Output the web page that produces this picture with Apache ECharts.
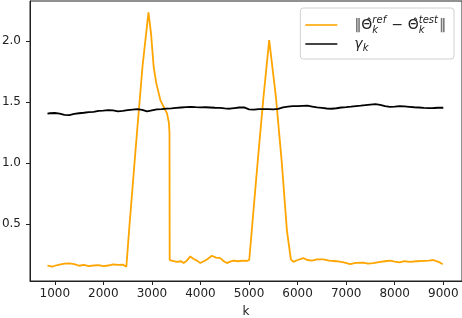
<!DOCTYPE html>
<html><head><meta charset="utf-8">
<script src="https://cdn.jsdelivr.net/npm/echarts@6/dist/echarts.min.js"></script>
<style>html,body{margin:0;padding:0;background:#fff}#c{width:462px;height:318px}</style>
</head><body><div id="c"></div>
<script>
// ---- data ----
const seriesNames = ['diff', 'gamma'];
const xTicks = [1000, 2000, 3000, 4000, 5000, 6000, 7000, 8000, 9000];
const yTicks = [0.5, 1.0, 1.5, 2.0];

const kOrange = [850, 900, 950, 1000, 1100, 1200, 1300, 1400, 1500, 1600, 1700, 1800, 1900, 2000, 2100, 2200, 2300, 2400, 2440, 2474,
  2536, 2680, 2806, 2929, 2982, 3036, 3091, 3174, 3242, 3311, 3350, 3362, 3366,
  3400, 3450, 3517, 3600, 3653, 3720, 3790, 3850, 3928, 3996, 4070, 4133, 4236, 4320, 4407, 4480, 4545, 4610, 4681, 4780, 4887, 4960, 5004,
  5175, 5298, 5415, 5553, 5676, 5779, 5861,
  5915, 6000, 6120, 6200, 6300, 6400, 6531, 6650, 6800, 6950, 7080, 7200, 7354, 7450, 7560, 7700, 7800, 7903, 8000, 8100, 8200, 8314, 8450, 8600, 8700, 8794, 8900, 8987];
const vOrange = [0.160, 0.155, 0.150, 0.158, 0.168, 0.176, 0.178, 0.172, 0.158, 0.165, 0.155, 0.160, 0.163, 0.155, 0.160, 0.170, 0.165, 0.168, 0.160, 0.150,
  0.478, 1.189, 1.789, 2.235, 2.063, 1.789, 1.653, 1.516, 1.461, 1.407, 1.330, 1.250, 0.205,
  0.200, 0.195, 0.190, 0.195, 0.180, 0.200, 0.235, 0.215, 0.200, 0.180, 0.195, 0.210, 0.240, 0.225, 0.220, 0.195, 0.180, 0.192, 0.200, 0.195, 0.200, 0.198, 0.205,
  0.997, 1.543, 2.008, 1.543, 0.997, 0.450, 0.210,
  0.190, 0.205, 0.220, 0.205, 0.200, 0.210, 0.210, 0.200, 0.195, 0.185, 0.172, 0.182, 0.183, 0.176, 0.180, 0.190, 0.195, 0.200, 0.192, 0.185, 0.195, 0.190, 0.195, 0.198, 0.200, 0.205, 0.190, 0.170];

const kBlack = [850, 900, 1000, 1100, 1200, 1300, 1400, 1500, 1600, 1700, 1800, 1900, 2000, 2100, 2200, 2300, 2400, 2500, 2600, 2700, 2800, 2900, 3000,
  3100, 3200, 3300, 3400, 3500, 3600, 3700, 3800, 3900, 4000, 4100, 4200, 4300, 4400, 4500, 4600, 4700, 4800, 4900, 5000,
  5100, 5200, 5300, 5400, 5500, 5600, 5700, 5800, 5900, 6000, 6100, 6200, 6300, 6400, 6500, 6600, 6700, 6800, 6900, 7000,
  7100, 7200, 7300, 7400, 7500, 7600, 7700, 7800, 7900, 8000, 8100, 8200, 8300, 8400, 8500, 8600, 8700, 8800, 8900, 9000];
const vBlack = [1.405, 1.408, 1.410, 1.405, 1.395, 1.392, 1.402, 1.408, 1.412, 1.418, 1.420, 1.428, 1.430, 1.434, 1.432, 1.424, 1.428, 1.434, 1.438, 1.442, 1.436, 1.423, 1.432,
  1.440, 1.442, 1.446, 1.448, 1.452, 1.455, 1.458, 1.461, 1.458, 1.456, 1.457, 1.455, 1.453, 1.452, 1.448, 1.445, 1.450, 1.455, 1.456, 1.440,
  1.438, 1.442, 1.442, 1.441, 1.440, 1.444, 1.456, 1.462, 1.466, 1.467, 1.469, 1.470, 1.463, 1.456, 1.452, 1.447, 1.445, 1.449, 1.455, 1.458,
  1.462, 1.467, 1.470, 1.475, 1.479, 1.483, 1.476, 1.466, 1.461, 1.463, 1.467, 1.465, 1.461, 1.457, 1.455, 1.452, 1.450, 1.451, 1.453, 1.453];

// ---- chart ----
const chart = echarts.init(document.getElementById('c'), null, {renderer: 'canvas'});
const F = 'DejaVu Sans';
const TXT = '#222';
const base = {fontFamily: F, fontSize: 14, color: '#222', lineHeight: 26};
const sm = {fontFamily: F, fontSize: 10, fontStyle: 'italic', color: '#222'};
chart.setOption({
  animation: false,
  grid: {left: 30, right: 0, top: 1, bottom: 37, show: true, borderColor: TXT, borderWidth: 1,
    containLabel: false, outerBoundsMode: 'none'},
  legend: {
    orient: 'vertical', right: 8, top: 8,
    padding: [7, 8, 6, 5], itemGap: 2,
    itemWidth: 32, itemHeight: 2, icon: 'rect',
    backgroundColor: 'rgba(255,255,255,0.85)', borderColor: '#d0d0d0', borderWidth: 1, borderRadius: 3,
    data: [
      {name: seriesNames[0], itemStyle: {color: '#ffb833'}},
      {name: seriesNames[1], itemStyle: {color: '#444'}}
    ],
    formatter: function (n) {
      if (n === seriesNames[0]) {
        return '{bar|‖}{t|Θ̂}{sub|k}{sup|ref}{m| − }{t|Θ̂}{sub|k}{sup|test}{bar|‖}';
      }
      return '{g|γ}{gs|k}';
    },
    textStyle: {
      padding: [0, 0, 0, 12],
      rich: {
        bar: Object.assign({}, base, {color: '#777', fontWeight: 'bold'}),
        t: base,
        m: base,
        sub: Object.assign({}, sm, {padding: [10, 0, 0, 0], width: 0}),
        sup: Object.assign({}, sm, {padding: [0, 1, 10, 0]}),
        g: Object.assign({}, base, {fontStyle: 'italic'}),
        gs: Object.assign({}, sm, {padding: [8, 0, 0, 0]})
      }
    }
  },
  xAxis: {
    type: 'value', min: 490, max: 9385,
    name: 'k', nameLocation: 'middle', nameGap: 25,
    nameTextStyle: {fontFamily: F, fontSize: 12, color: TXT},
    splitLine: {show: false},
    axisLine: {show: true, lineStyle: {color: TXT, width: 1}},
    axisTick: {show: true, length: 4, lineStyle: {color: TXT}, customValues: xTicks},
    axisLabel: {fontFamily: F, fontSize: 12, color: TXT, margin: 7, customValues: xTicks,
      formatter: function (v) { return String(v); }}
  },
  yAxis: {
    type: 'value', min: 0.033, max: 2.328,
    splitLine: {show: false},
    axisLine: {show: true, lineStyle: {color: TXT, width: 1}},
    axisTick: {show: true, length: 4, lineStyle: {color: TXT}, customValues: yTicks},
    axisLabel: {fontFamily: F, fontSize: 12, color: TXT, margin: 9, customValues: yTicks,
      formatter: function (v) { return v.toFixed(1); }}
  },
  series: [
    {name: seriesNames[0], type: 'line', showSymbol: false, symbol: 'none',
     data: kOrange.map((k, i) => [k, vOrange[i]]),
     lineStyle: {color: '#ffa500', width: 1.8}, itemStyle: {color: '#ffa500'}, z: 2},
    {name: seriesNames[1], type: 'line', showSymbol: false, symbol: 'none',
     data: kBlack.map((k, i) => [k, vBlack[i]]),
     lineStyle: {color: '#000', width: 1.8}, itemStyle: {color: '#000'}, z: 3}
  ]
});
</script></body></html>
